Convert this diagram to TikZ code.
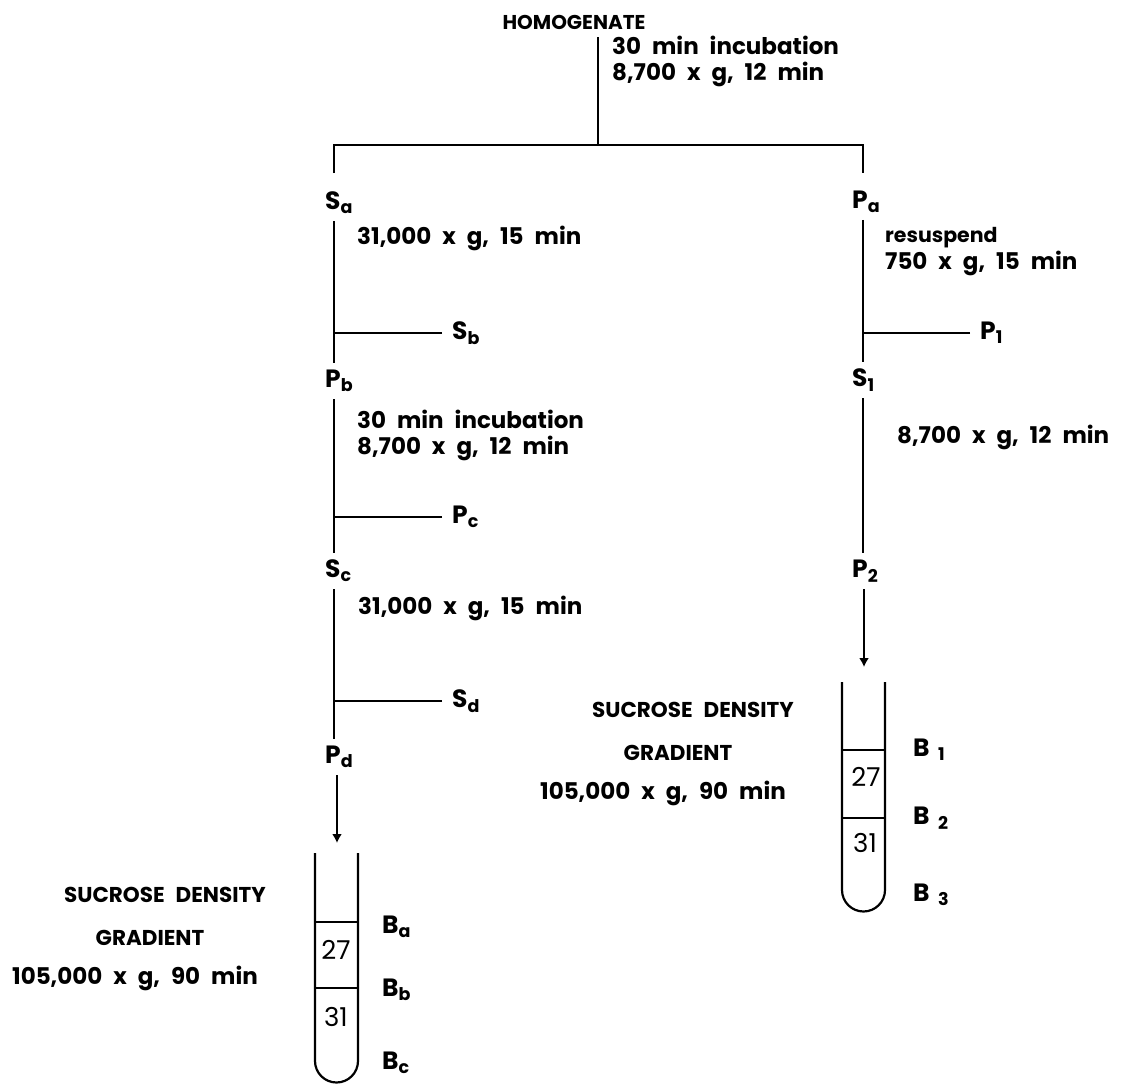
\documentclass[tikz,border=0pt]{standalone}
\usepackage{fontspec}
\setmainfont{Poppins}
\usetikzlibrary{arrows.meta,positioning}
\newcommand\flowfont{\fontsize{23}{26}\selectfont\bfseries\spaceskip=11pt plus 2pt\relax}
\newcommand\markfont{\fontsize{25}{28}\selectfont\bfseries}
\newcommand\capsfont{\fontsize{21.5}{24}\selectfont\bfseries\spaceskip=11pt plus 2pt\relax}
\newcommand\smallflow{\fontsize{20.5}{24}\selectfont\bfseries}
\newcommand\tubefont{\fontsize{26}{28}\selectfont}
\tikzset{
  frac/.style={anchor=west,inner xsep=0pt,inner ysep=7pt,font=\markfont},
  side/.style={anchor=west,inner sep=0pt,font=\markfont},
  cond/.style={anchor=west,inner sep=0pt,align=left,font=\flowfont},
  grad/.style={inner sep=0pt,font=\capsfont},
  band/.style={anchor=west,inner sep=0pt,font=\markfont},
  layernum/.style={inner sep=0pt,font=\tubefont},
  link/.style={line width=2.2pt},
  layer/.style={line width=1.5pt},
  pour/.style={line width=2.2pt,-{Latex[length=9pt,width=10pt]}},
}

\begin{document}
\begin{tikzpicture}[x=1pt,y=-1pt]
  \useasboundingbox (0,0) rectangle (1128,1084);
  \coordinate (colL) at (334,0);
  \coordinate (colR) at (863,0);

  % homogenate split
  \node[grad,font=\fontsize{20}{24}\selectfont\bfseries] (homog) at (574,22) {HOMOGENATE};
  \coordinate (split) at (598,145);
  \coordinate (legL) at (334,173);
  \coordinate (legR) at (863,173);
  \draw[link,shorten <=8pt] (homog.south -| split) -- (split);
  \draw[link] (legL) |- (split) -| (legR);
  \node[cond] (c0) at (612,61) {30 min incubation\\8,700 x g, 12 min};

  % supernatant side
  \node[frac] (Sa) at (325,203) {S\textsubscript{a}};
  \node[frac] (Pb) at (325,381) {P\textsubscript{b}};
  \node[frac] (Sc) at (325,571) {S\textsubscript{c}};
  \node[frac] (Pd) at (325,757) {P\textsubscript{d}};
  \node[side] (Sb) at (452,333) {S\textsubscript{b}};
  \node[side] (Pc) at (452,517) {P\textsubscript{c}};
  \node[side] (Sd) at (452,701) {S\textsubscript{d}};
  \node[cond] (c1) at (357,238) {31,000 x g, 15 min};
  \node[cond] (c2) at (357,435) {30 min incubation\\8,700 x g, 12 min};
  \node[cond] (c3) at (358,608) {31,000 x g, 15 min};
  \draw[link] (Sa.south -| colL) -- (Pb.north -| colL);
  \draw[link] (Pb.south -| colL) -- (Sc.north -| colL);
  \draw[link] (Sc.south -| colL) -- (Pd.north -| colL);
  \draw[link,shorten <=10pt] (Sb.west) -- (Sb.west -| colL);
  \draw[link,shorten <=10pt] (Pc.west) -- (Pc.west -| colL);
  \draw[link,shorten <=10pt] (Sd.west) -- (Sd.west -| colL);

  % pellet side
  \node[frac] (Pa) at (852,202) {P\textsubscript{a}};
  \node[frac] (S1) at (852,380) {S\textsubscript{1}};
  \node[frac] (P2) at (852,571) {P\textsubscript{2}};
  \node[side] (P1) at (980,333) {P\textsubscript{1}};
  \node[cond,font=\smallflow] (c4) at (885,238) {resuspend};
  \node[cond] (c5) at (885,263) {750 x g, 15 min};
  \node[cond] (c6) at (897,437) {8,700 x g, 12 min};
  \draw[link] (Pa.south -| colR) -- (S1.north -| colR);
  \draw[link] (S1.south -| colR) -- (P2.north -| colR);
  \draw[link,shorten <=10pt] (P1.west) -- (P1.west -| colR);

  % gradient tubes
  \coordinate (mouthL) at (337,843);
  \coordinate (mouthR) at (864,667);
  \draw[pour] (Pd.south -| mouthL) -- (mouthL);
  \draw[pour] (P2.south -| mouthR) -- (mouthR);

  \draw[link] (315,853) -- (315,1061) arc (180:0:21.5) -- (358,853);
  \draw[layer] (315,922) -- (358,922);
  \draw[layer] (315,988) -- (358,988);
  \node[layernum] (l27) at (336,950) {27};
  \node[layernum] (l31) at (336,1017) {31};

  \draw[link] (842,682) -- (842,890) arc (180:0:21.5) -- (885,682);
  \draw[layer] (842,750) -- (885,750);
  \draw[layer] (842,818) -- (885,818);
  \node[layernum] (r27) at (866,777) {27};
  \node[layernum] (r31) at (865,843) {31};

  % bands
  \node[band] (Ba) at (382,927) {B\textsubscript{a}};
  \node[band] (Bb) at (382,990) {B\textsubscript{b}};
  \node[band] (Bc) at (382,1063) {B\textsubscript{c}};
  \node[band] (B1) at (913,750) {B\,\,\textsubscript{1}};
  \node[band] (B2) at (913,818) {B\,\,\textsubscript{2}};
  \node[band] (B3) at (913,895) {B\,\,\textsubscript{3}};

  % gradient notes
  \node[grad] (gL1) at (165,895) {SUCROSE DENSITY};
  \node[grad] (gL2) at (150,938) {GRADIENT};
  \node[grad,font=\flowfont] (gL3) at (135,978) {105,000 x g, 90 min};
  \node[grad] (gR1) at (693,710) {SUCROSE DENSITY};
  \node[grad] (gR2) at (678,753) {GRADIENT};
  \node[grad,font=\flowfont] (gR3) at (663,793) {105,000 x g, 90 min};
\end{tikzpicture}
\end{document}
